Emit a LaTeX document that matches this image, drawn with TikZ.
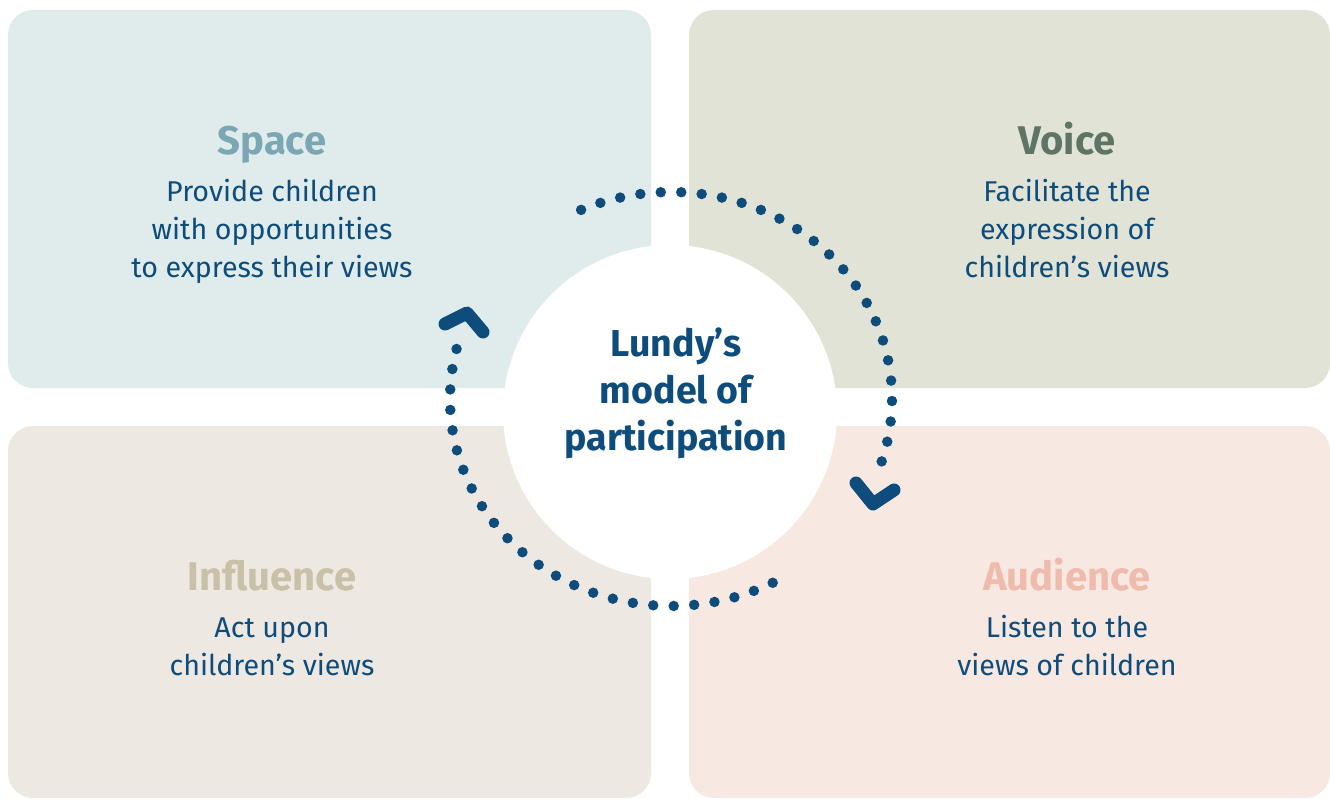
\documentclass[tikz,border=0pt]{standalone}
\usepackage{fontspec}
\setmainfont{Fira Sans}
\definecolor{spacebg}{HTML}{E0ECEC}
\definecolor{voicebg}{HTML}{E2E3D7}
\definecolor{inflbg}{HTML}{EDE8E1}
\definecolor{audbg}{HTML}{F7E8E2}
\definecolor{spacet}{HTML}{7BA6B4}
\definecolor{voicet}{HTML}{5E7565}
\definecolor{inflt}{HTML}{C9C0A8}
\definecolor{audt}{HTML}{EEBBAC}
\definecolor{navy}{HTML}{0D4C7B}
\begin{document}
\begin{tikzpicture}[x=1pt,y=-1pt,
  quad/.style={fill=#1, rounded corners=25pt},
  ttl/.style={text=#1, font=\fontsize{40}{48}\selectfont\bfseries, anchor=base, inner sep=0pt},
  body/.style={text=navy, font=\fontsize{28.6}{38}\selectfont, align=center, anchor=base, inner sep=0pt},
  dots/.style={draw=navy, line width=10.5pt, line cap=round, dash pattern=on 0pt off 20.5pt},
  chev/.style={draw=navy, line width=13pt, line cap=round, line join=round}]
\fill[white] (0,0) rectangle (1330,799);
\useasboundingbox (0,0) rectangle (1330,799);
% quadrants
\fill[quad=spacebg] (8,10) rectangle (651,388);
\fill[quad=voicebg] (689,10) rectangle (1330,388);
\fill[quad=inflbg] (8,426) rectangle (651,798);
\fill[quad=audbg] (689,426) rectangle (1330,798);
% centre disc
\fill[white] (670,412) circle[radius=167pt];
% titles
\node[ttl=spacet] (space) at (272,155) {Space};
\node[ttl=voicet] (voice) at (1067,155) {Voice};
\node[ttl=inflt] (influence) at (272,590) {Influence};
\node[ttl=audt] (audience) at (1067,590) {Audience};
% bodies (base anchor = last line baseline)
\node[body] (spaceb) at (272,278) {Provide children\\with opportunities\\to express their views};
\node[body] (voiceb) at (1067,278) {Facilitate the\\expression of\\children’s views};
\node[body] (inflb) at (272,675) {Act upon\\children’s views};
\node[body] (audb) at (1067,675) {Listen to the\\views of children};
% centre text
\node[text=navy, font=\fontsize{37.5}{47}\selectfont\bfseries, align=center, anchor=base, inner sep=0pt] (centre) at (676,450) {Lundy’s\\model of\\participation};
% dotted arcs
\draw[dots] plot[domain=-114:21, samples=120] ({671+221*cos(\x)},{399+207*sin(\x)});
\draw[dots] plot[domain=62.6:198.6, samples=120] ({671+221*cos(\x)},{399+207*sin(\x)});
% arrowheads
\coordinate (a1) at (856,483);
\coordinate (a2) at (873,504);
\coordinate (a3) at (894,490);
\draw[chev] (a1) -- (a2) -- (a3);
\coordinate (b1) at (445,324);
\coordinate (b2) at (467,313);
\coordinate (b3) at (483,332);
\draw[chev] (b1) -- (b2) -- (b3);
\end{tikzpicture}
\end{document}
